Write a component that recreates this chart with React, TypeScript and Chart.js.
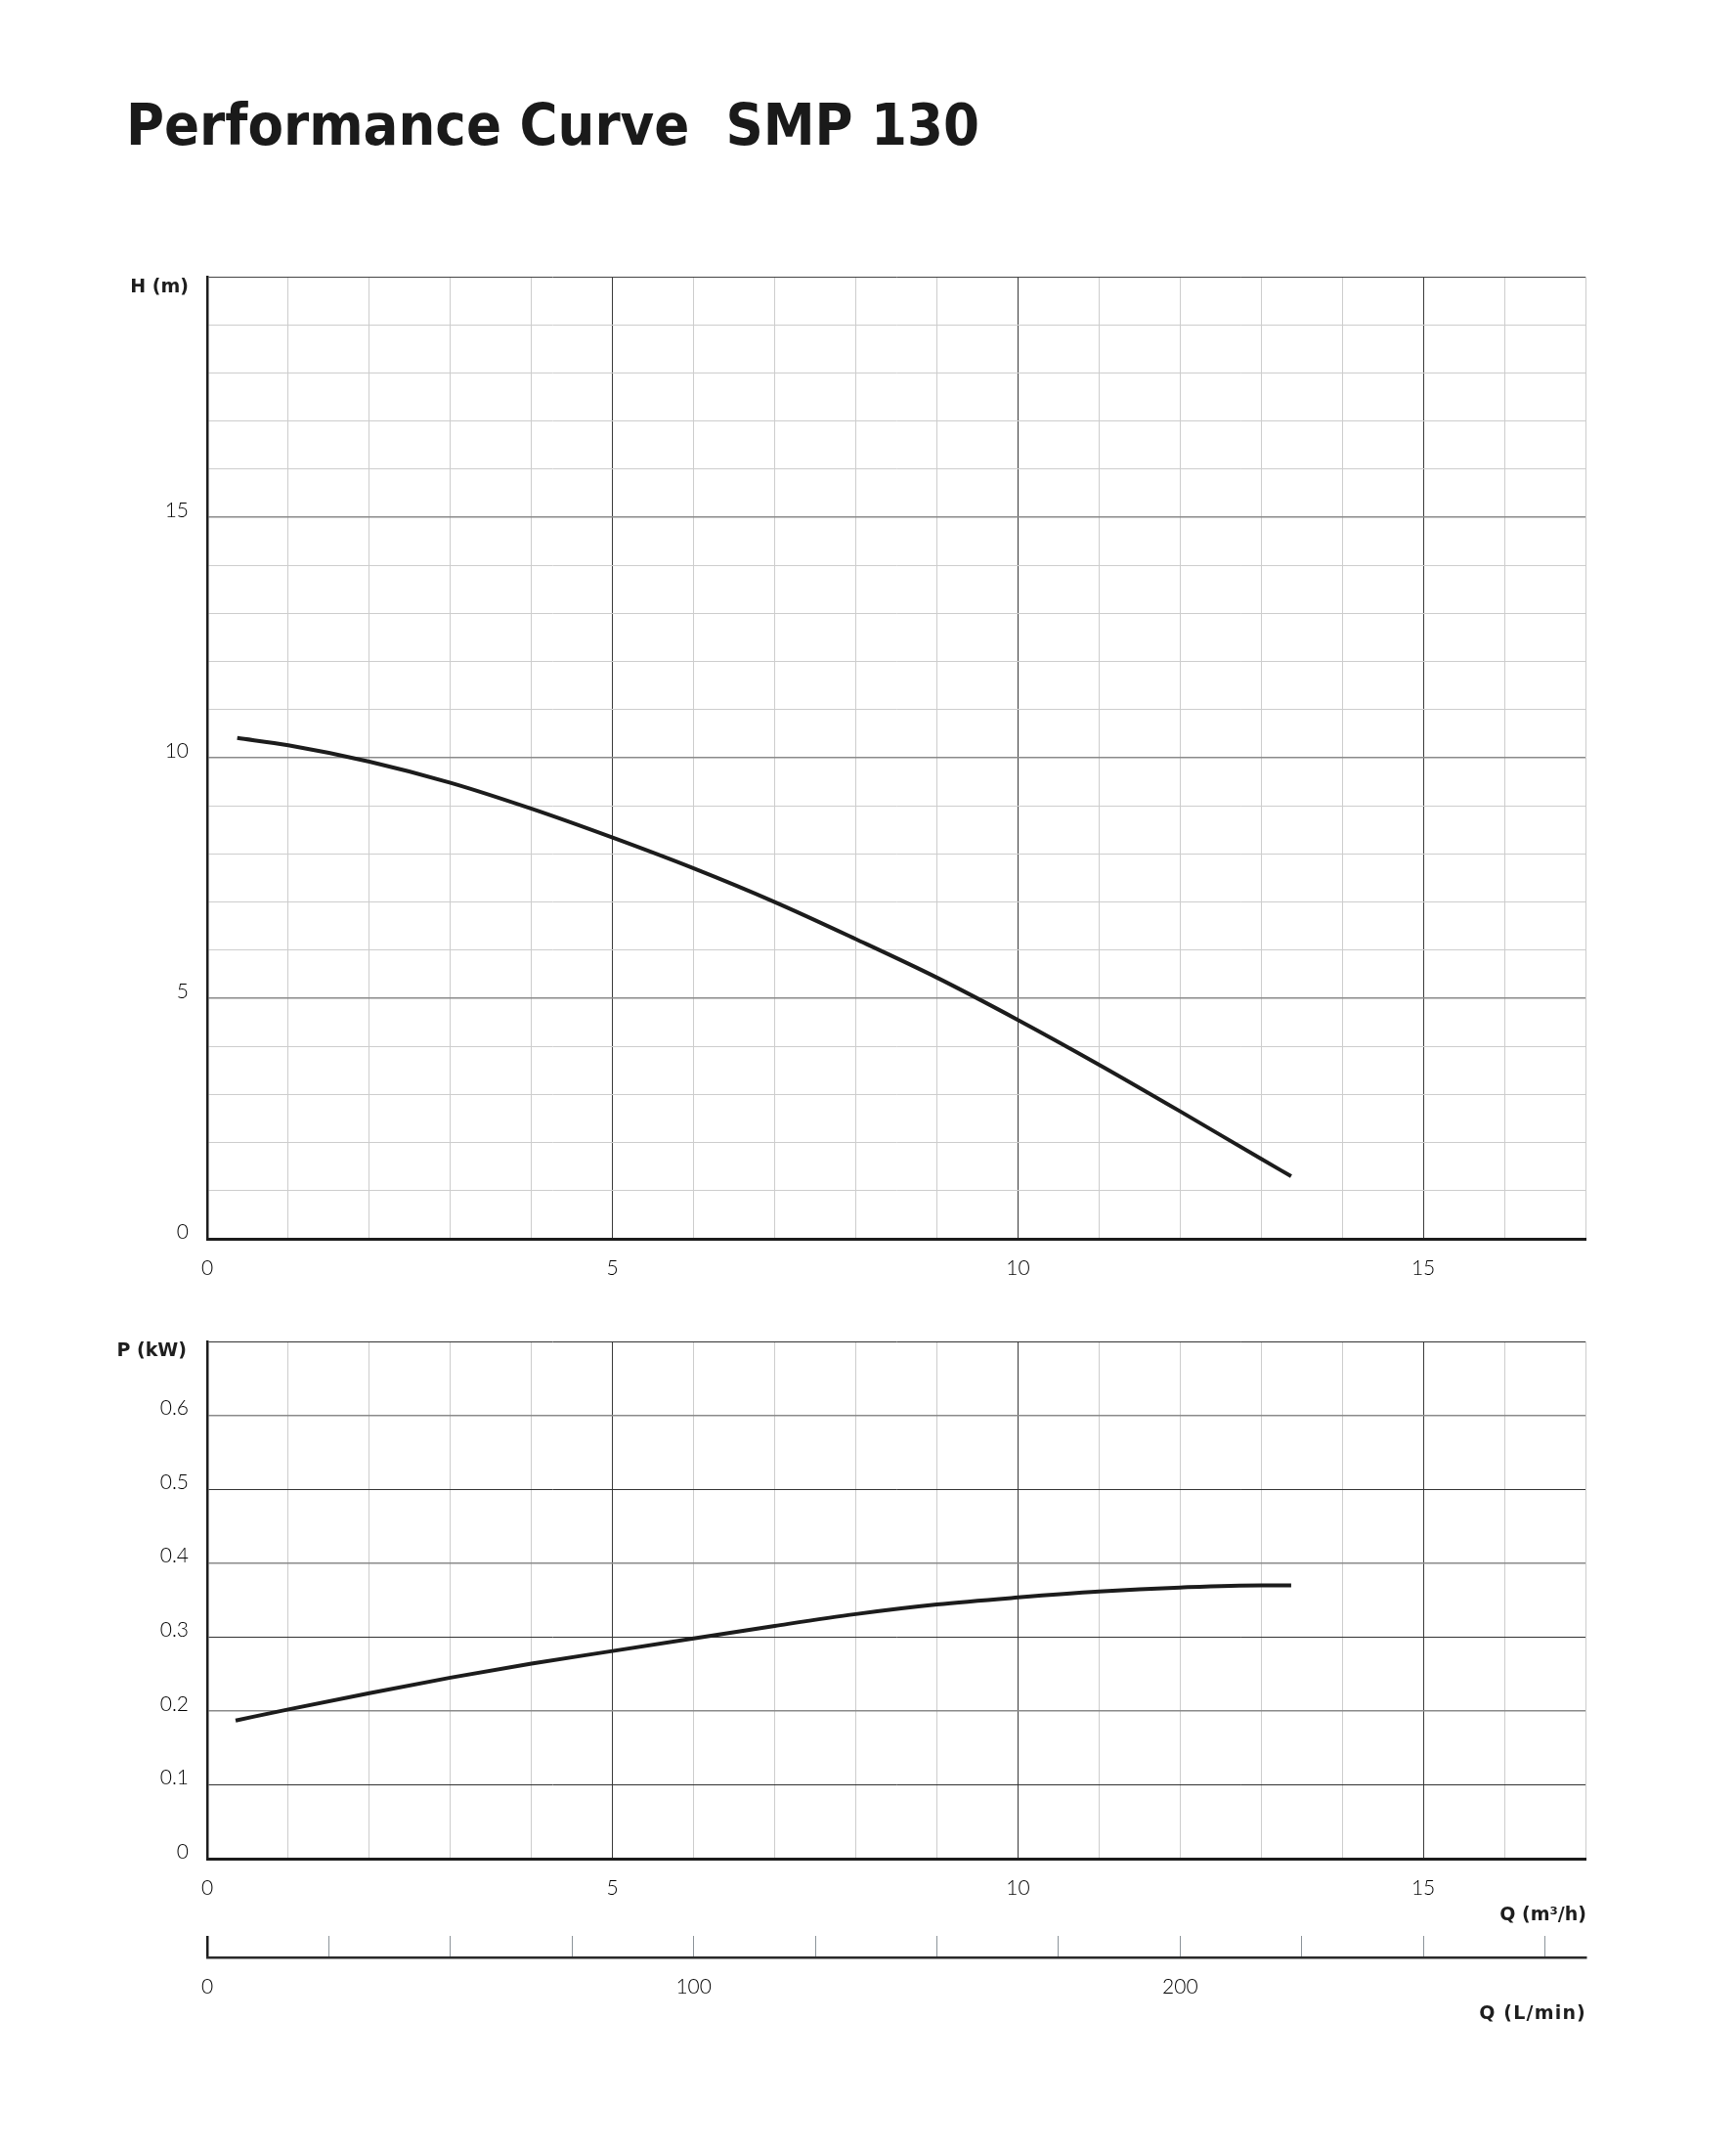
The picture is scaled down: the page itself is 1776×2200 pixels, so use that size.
import React, { useEffect, useRef } from 'react';
import { Chart, registerables } from 'chart.js';

Chart.register(...registerables);

// ---- data ----
const flowH = [0.37, 1, 2, 3, 4, 5, 6, 7, 8, 9, 10, 11, 12, 13, 13.37];
const headH = [10.41, 10.26, 9.92, 9.48, 8.94, 8.34, 7.7, 7.0, 6.23, 5.43, 4.55, 3.62, 2.65, 1.66, 1.3];
const flowP = [0.35, 1, 2, 3, 4, 5, 6, 7, 8, 9, 10, 11, 12, 13, 13.37];
const powerP = [0.187, 0.202, 0.224, 0.245, 0.264, 0.281, 0.298, 0.315, 0.331, 0.344, 0.3535, 0.3615, 0.367, 0.37, 0.37];
const qLabels = [0, 5, 10, 15];
const hLabels = [0, 5, 10, 15];
const pLabels = [0, 0.1, 0.2, 0.3, 0.4, 0.5, 0.6];
const lminLabels = [0, 100, 200];

const Q_MAX = 17;
const H_MAX = 20;
const P_MAX = 0.7;
const LMIN_MAX = (Q_MAX * 1000) / 60;

const PAGE_OFF = 8;
const FONT = 'Lato';
const BOLD_FONT = '"DejaVu Sans"';
const INK = '#1c1c1c';
const MINOR = '#cdcdcd';

const tickFont = { family: FONT, size: 21, weight: '300' as const };
const TICK_COLOR = '#000';

const near = (v: number, arr: number[]) => arr.some((a) => Math.abs(a - v) < 1e-6);

function curveChart(canvas: HTMLCanvasElement, xs: number[], ys: number[], yMax: number, yStep: number, yLabels: number[], kind: 'H' | 'P', xAxisH: number, padTop: number) {
  return new Chart(canvas, {
    type: 'line',
    data: {
      datasets: [
        {
          data: xs.map((x, i) => ({ x, y: ys[i] })),
          borderColor: INK,
          borderWidth: 4,
          pointRadius: 0,
          cubicInterpolationMode: 'monotone',
          fill: false,
        },
      ],
    },
    options: {
      animation: false,
      responsive: false,
      maintainAspectRatio: false,
      layout: { padding: { left: 0, right: 38, top: padTop, bottom: 0 } },
      plugins: { legend: { display: false }, tooltip: { enabled: false } },
      scales: {
        x: {
          type: 'linear',
          min: 0,
          max: Q_MAX,
          afterFit: (s: any) => {
            s.height = xAxisH;
          },
          ticks: {
            stepSize: 1,
            autoSkip: false,
            maxRotation: 0,
            padding: 18,
            color: TICK_COLOR,
            font: tickFont,
            callback: (v: any) => (near(Number(v), qLabels) ? String(v) : ''),
          },
          grid: {
            drawTicks: false,
            color: (c: any) => (Math.round(c.tick.value) % 5 === 0 ? '#3a3a3a' : MINOR),
            lineWidth: 1,
          },
          border: { color: INK, width: 3 },
        },
        y: {
          type: 'linear',
          min: 0,
          max: yMax,
          afterFit: (s: any) => {
            s.width = 212;
          },
          ticks: {
            stepSize: yStep,
            autoSkip: false,
            padding: 19,
            labelOffset: -7,
            color: TICK_COLOR,
            font: tickFont,
            callback: (v: any) => {
              const n = Number(v);
              if (!near(n, yLabels)) return '';
              return n === 0 ? '0' : kind === 'P' ? n.toFixed(1) : String(n);
            },
          },
          grid: {
            drawTicks: false,
            color: (c: any) => {
              const v = c.tick.value;
              if (kind === 'H') {
                const r = Math.round(v);
                if (r === H_MAX) return '#444';
                return r % 5 === 0 ? '#8a8a8a' : MINOR;
              }
              const k = Math.round(v * 10);
              return k % 2 === 1 ? '#333' : '#8a8a8a';
            },
            lineWidth: (c: any) => {
              const v = c.tick.value;
              if (kind === 'H') return Math.round(v) % 5 === 0 && Math.round(v) !== H_MAX ? 1.5 : 1;
              const k = Math.round(v * 10);
              return k % 2 === 1 ? 1 : 1.5;
            },
          },
          border: { color: INK, width: 2.5 },
        },
      },
    } as any,
  });
}

function lminChart(canvas: HTMLCanvasElement) {
  return new Chart(canvas, {
    type: 'line',
    data: { datasets: [] },
    options: {
      animation: false,
      responsive: false,
      maintainAspectRatio: false,
      layout: { padding: { left: 212, right: 38, top: 4, bottom: 0 } },
      plugins: { legend: { display: false }, tooltip: { enabled: false } },
      scales: {
        x: {
          type: 'linear',
          min: 0,
          max: LMIN_MAX,
          afterFit: (s: any) => {
            s.height = 88;
          },
          ticks: {
            stepSize: 25,
            includeBounds: false,
            autoSkip: false,
            maxRotation: 0,
            padding: 18,
            color: TICK_COLOR,
            font: tickFont,
            callback: (v: any) => (near(Number(v), lminLabels) ? String(v) : ''),
          },
          grid: {
            drawTicks: false,
            color: (c: any) => (c.tick.value === 0 ? INK : '#8c949a'),
            lineWidth: (c: any) => (c.tick.value === 0 ? 2.5 : 1),
          },
          border: { color: '#2a2a2a', width: 2.5 },
        },
        y: { display: false, min: 0, max: 1 },
      },
    } as any,
  });
}

const unitStyle = (rightX: number, centerY: number, spacing = 0): React.CSSProperties => ({
  position: 'absolute',
  left: rightX - 300 - PAGE_OFF,
  width: 300,
  top: centerY - 12 - PAGE_OFF,
  height: 24,
  lineHeight: '24px',
  textAlign: 'right',
  fontFamily: BOLD_FONT,
  fontWeight: 700,
  fontSize: 19,
  letterSpacing: spacing,
  color: '#1e1e1e',
  whiteSpace: 'pre',
});

export default function App() {
  const topRef = useRef<HTMLCanvasElement>(null);
  const botRef = useRef<HTMLCanvasElement>(null);
  const lRef = useRef<HTMLCanvasElement>(null);

  useEffect(() => {
    const charts: Chart[] = [];
    if (topRef.current) charts.push(curveChart(topRef.current, flowH, headH, H_MAX, 1, hLabels, 'H', 63, 33));
    if (botRef.current) charts.push(curveChart(botRef.current, flowP, powerP, P_MAX, 0.1, pLabels, 'P', 74, 32));
    if (lRef.current) charts.push(lminChart(lRef.current));
    return () => charts.forEach((c) => c.destroy());
  }, []);

  const canvasStyle = (x: number, y: number): React.CSSProperties => ({
    position: 'absolute',
    left: x - PAGE_OFF,
    top: y - PAGE_OFF,
  });

  return (
    <div style={{ position: 'relative', width: 1760, height: 2184, background: '#fff' }}>
      <div
        style={{
          position: 'absolute',
          left: 129 - PAGE_OFF,
          top: 93 - PAGE_OFF,
          height: 70,
          lineHeight: '70px',
          fontFamily: BOLD_FONT,
          fontWeight: 700,
          fontSize: 58,
          color: '#1a1a1a',
          whiteSpace: 'pre',
          transform: 'scaleX(0.917)',
          transformOrigin: 'left center',
        }}
      >
        {'Performance Curve  SMP 130'}
      </div>
      <canvas ref={topRef} width={1660} height={1080} style={canvasStyle(0, 250)} />
      <canvas ref={botRef} width={1660} height={635} style={canvasStyle(0, 1340)} />
      <canvas ref={lRef} width={1660} height={114} style={canvasStyle(0, 1976)} />
      <div style={unitStyle(193, 292)}>H (m)</div>
      <div style={unitStyle(191, 1380)}>P (kW)</div>
      <div style={unitStyle(1623, 1957)}>Q (m³/h)</div>
      <div style={unitStyle(1623, 2058, 1.2)}>Q (L/min)</div>
    </div>
  );
}
